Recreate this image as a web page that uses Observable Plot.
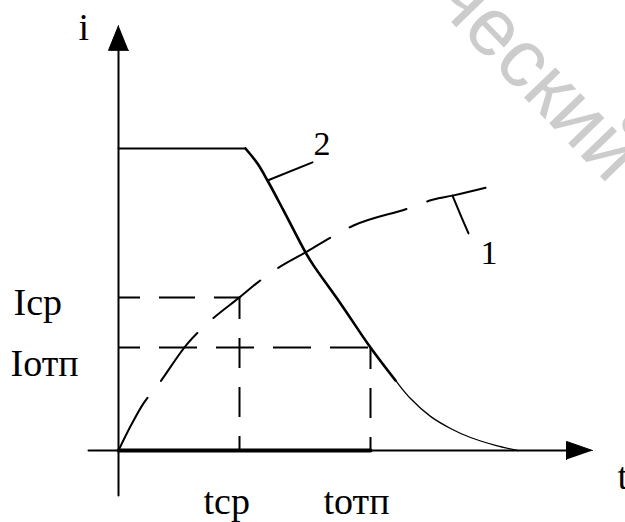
<!DOCTYPE html>
<html>
<head>
<meta charset="utf-8">
<script src="https://cdn.jsdelivr.net/npm/d3@7"></script>
<script src="https://cdn.jsdelivr.net/npm/@observablehq/plot@0.6"></script>
<style>
  html, body { margin: 0; padding: 0; background: #fff; }
  svg { display: block; }
</style>
</head>
<body>
<script>
// ---- data (time units / current units) ----
const curve1T = [0, 3, 6.25, 9.75, 17.25, 23, 30.25, 34.75, 39.75, 46.75, 53, 58.75, 72.25, 78.75, 83.5, 96];
const curve1I = [0, 8, 15.6, 21.5, 35.4, 43, 50.7, 55.6, 60.3, 65.6, 70.5, 74.5, 80.1, 83.1, 84.4, 88.4];

const curve2FlatT = [0, 31.75];
const curve2FlatI = [100, 100];
const curve2T = [31.75, 34.75, 37.25, 41.25, 46.75, 48.75, 55.5, 63, 69.25, 73, 78, 83, 88, 94.25, 99.75];
const curve2I = [100, 95.0, 89.4, 79.5, 65.6, 61.3, 48.7, 34.1, 23.2, 17.2, 11.3, 7.3, 4.3, 1.7, 0];
const thickUntil = 69.25;

const tSr = 30.25, tOtp = 63;      // tср, tотп
const iSr = 50.7, iOtp = 34.1;     // Iср, Iотп

const axisX = [-7.5, 112];
const axisY = [-14.9, 133];
const arrowUpT = [0, -2.5, 2.5];
const arrowUpI = [140.7, 132.5, 132.5];
const arrowRightT = [118.5, 112, 112];
const arrowRightI = [0, 3, -3];

const leader2T = [37.25, 48.5], leader2I = [89.4, 95.4];
const leader1T = [83.5, 85.5, 87.5], leader1I = [84.4, 78, 71.9];

const labels = [
  {t: -26.25, i: 45.0, text: "Iср"},
  {t: -27, i: 24.8, text: "Iотп"},
  {t: 21.25, i: -20.9, text: "tср"},
  {t: 51.25, i: -20.9, text: "tотп"},
  {t: -10, i: 135.8, text: "i"},
  {t: 124.75, i: -12.6, text: "t"}
];
const curveLabels = [
  {t: 48.75, i: 97.7, text: "2"},
  {t: 90.5, i: 61.9, text: "1"}
];
const watermark = [{t: 78, i: 149, text: "ческий"}];

// ---- tables ----
const pts = (T, I) => T.map((t, k) => ({t, i: I[k]}));
const c1 = pts(curve1T, curve1I);
const c2 = pts(curve2T, curve2I);
const c2thick = c2.filter(d => d.t <= thickUntil);

const chart = Plot.plot({
  width: 625,
  height: 522,
  marginTop: 0, marginRight: 0, marginBottom: 0, marginLeft: 0,
  x: {domain: [0, 100], range: [118, 518], axis: null},
  y: {domain: [0, 100], range: [450, 148], axis: null},
  style: {background: "white"},
  marks: [
    // watermark
    Plot.text(watermark, {x: "t", y: "i", text: "text", rotate: 46, textAnchor: "start", lineAnchor: "bottom",
      fontFamily: "Liberation Sans", fontSize: 82, fill: "#cccccc"}),
    // axes
    Plot.line(pts(axisX, [0, 0]), {x: "t", y: "i", stroke: "black", strokeWidth: 2}),
    Plot.line(pts([0, 0], axisY), {x: "t", y: "i", stroke: "black", strokeWidth: 2}),
    Plot.line(pts(arrowUpT, arrowUpI), {x: "t", y: "i", fill: "black", stroke: "black", strokeWidth: 1}),
    Plot.line(pts(arrowRightT, arrowRightI), {x: "t", y: "i", fill: "black", stroke: "black", strokeWidth: 1}),
    // bold time segment
    Plot.line(pts([0, tOtp], [0, 0]), {x: "t", y: "i", stroke: "black", strokeWidth: 4}),
    // reference dashed lines
    Plot.ruleY([iSr], {x1: 0, x2: tSr, stroke: "black", strokeWidth: 2, strokeDasharray: "36,19", strokeDashoffset: 14}),
    Plot.ruleY([iOtp], {x1: 0, x2: tOtp, stroke: "black", strokeWidth: 2, strokeDasharray: "38,19", strokeDashoffset: 16}),
    Plot.ruleX([tSr], {y1: iSr, y2: 0, stroke: "black", strokeWidth: 2, strokeDasharray: "30,19", strokeDashoffset: 8}),
    Plot.ruleX([tOtp], {y1: iOtp, y2: 0, stroke: "black", strokeWidth: 2, strokeDasharray: "30,19", strokeDashoffset: 8}),
    // curve 1 (dashed)
    Plot.line(c1, {x: "t", y: "i", curve: "monotone-x", stroke: "black", strokeWidth: 2, strokeDasharray: "60,22"}),
    // curve 2
    Plot.line(pts(curve2FlatT, curve2FlatI), {x: "t", y: "i", stroke: "black", strokeWidth: 2}),
    Plot.line(c2, {x: "t", y: "i", curve: "catmull-rom", stroke: "black", strokeWidth: 1.3}),
    Plot.line(c2thick, {x: "t", y: "i", curve: "catmull-rom", stroke: "black", strokeWidth: 2.6}),
    // leaders
    Plot.line(pts(leader2T, leader2I), {x: "t", y: "i", stroke: "black", strokeWidth: 2}),
    Plot.line(pts(leader1T, leader1I), {x: "t", y: "i", curve: "natural", stroke: "black", strokeWidth: 2}),
    // labels
    Plot.text(labels, {x: "t", y: "i", text: "text", textAnchor: "start", lineAnchor: "bottom",
      fontFamily: "Liberation Serif", fontSize: 38, fill: "black"}),
    Plot.text(curveLabels, {x: "t", y: "i", text: "text", textAnchor: "start", lineAnchor: "bottom",
      fontFamily: "Liberation Serif", fontSize: 34, fill: "black"})
  ]
});
document.body.appendChild(chart);
</script>
</body>
</html>
